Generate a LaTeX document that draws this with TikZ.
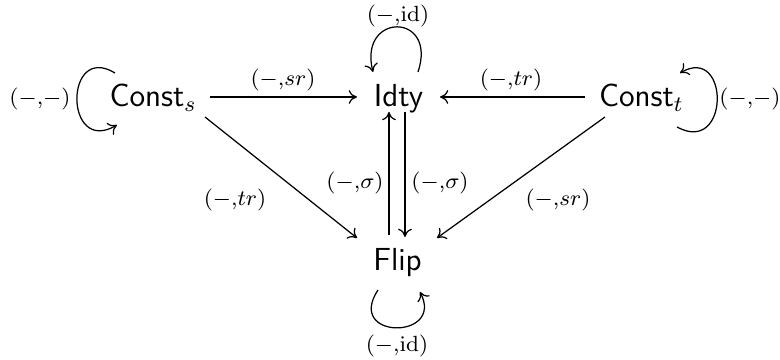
\documentclass[tikz,border=0pt]{standalone}
\usetikzlibrary{arrows.meta}
\begin{document}
\begin{tikzpicture}[x=0.36364pt,y=-0.36364pt,
  obj/.style={inner sep=0pt, font=\fontsize{11.6}{14}\selectfont\sffamily},
  lbl/.style={inner sep=0pt, font=\fontsize{8.2}{10}\selectfont},
  arr/.style={-{To[length=3pt,width=5pt]}, line width=0.45pt}]
\useasboundingbox (0,0) rectangle (780,360);
% objects
\node[obj, anchor=base west] (cs) at (109,107) {Const$_s$};
\node[obj, anchor=base] (id) at (398.5,107) {Idty};
\node[obj, anchor=base west] (ct) at (598.5,107) {Const$_t$};
\node[obj, anchor=base] (fl) at (397.5,271) {Flip};
% straight arrows
\draw[arr] ([shift={(101,-10)}]cs.base west) -- ([shift={(-41.5,-10)}]id.base);
\draw[arr] ([shift={(-13.5,-10)}]ct.base west) -- ([shift={(41.5,-10)}]id.base);
\draw[arr] ([shift={(96,10)}]cs.base west) -- ([shift={(-40.5,-33)}]fl.base);
\draw[arr] ([shift={(6.5,10)}]ct.base west) -- ([shift={(39.5,-33)}]fl.base);
\draw[arr] ([shift={(-8.5,-36)}]fl.base) -- ([shift={(-9.5,5)}]id.base);
\draw[arr] ([shift={(6.5,5)}]id.base) -- ([shift={(7.5,-34)}]fl.base);
% loops
\draw[arr] ([shift={(19.5,-35)}]id.base) .. controls (438,12) and (358,12) .. ([shift={(-25.5,-35)}]id.base);
\draw[arr] ([shift={(6,-34)}]cs.base west) .. controls (64,42) and (64,156) .. ([shift={(8,18)}]cs.base west);
\draw[arr] ([shift={(78.5,20)}]ct.base west) .. controls (730,156) and (730,44) .. ([shift={(81.5,-34)}]ct.base west);
\draw[arr] ([shift={(-19.5,19)}]fl.base) .. controls (345,340) and (445,340) .. ([shift={(22.5,21)}]fl.base);
% labels
\node[lbl] (l1) at (283,80) {$(-{,}sr)$};
\node[lbl] (l2) at (511,80) {$(-{,}tr)$};
\node[lbl] (l3) at (398,16) {$(-{,}\mathrm{id})$};
\node[lbl] (l4) at (40,99) {$(-{,}-)$};
\node[lbl] (l5) at (750,99) {$(-{,}-)$};
\node[lbl] (l6) at (397,346) {$(-{,}\mathrm{id})$};
\node[lbl] (l7) at (235,200) {$(-{,}tr)$};
\node[lbl] (l8) at (355,183) {$(-{,}\sigma)$};
\node[lbl] (l9) at (440,183) {$(-{,}\sigma)$};
\node[lbl] (l10) at (558,200) {$(-{,}sr)$};
\end{tikzpicture}
\end{document}
